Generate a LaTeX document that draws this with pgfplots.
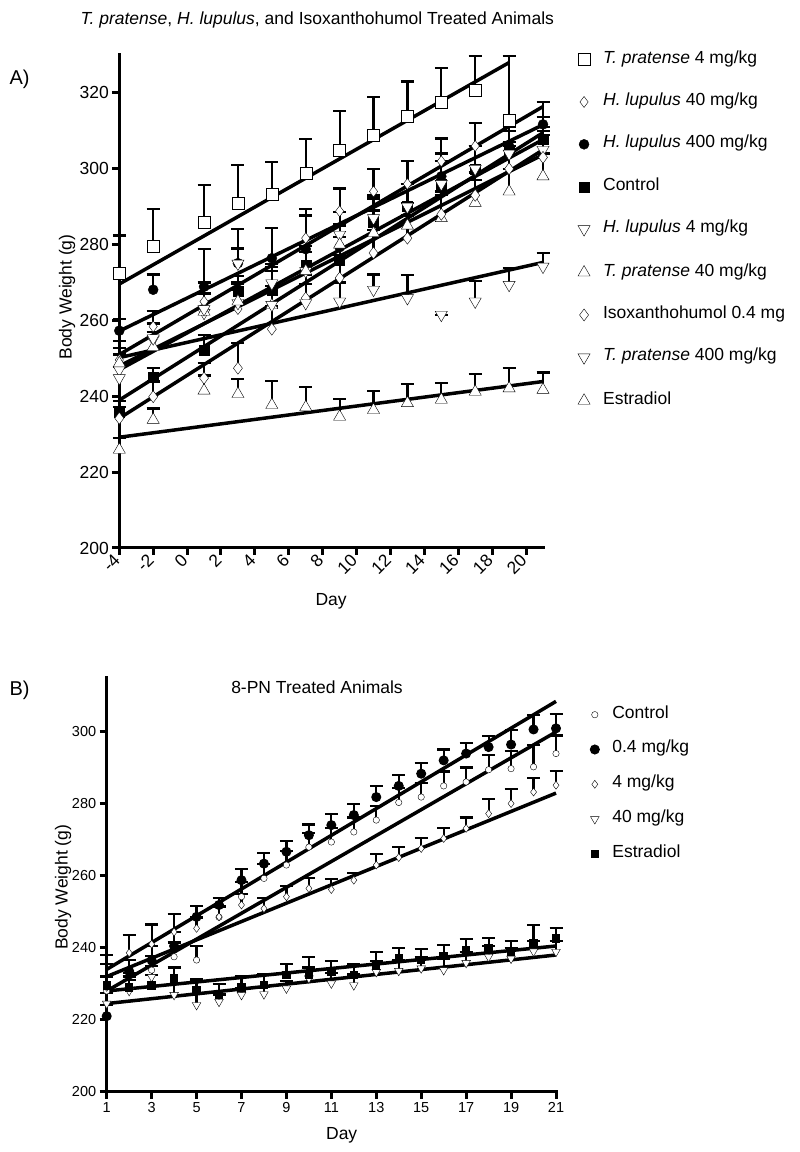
\documentclass[border=0pt]{standalone}
\usepackage{fontspec}
\setmainfont{Liberation Sans}
\usepackage{pgfplots}
\pgfplotsset{compat=1.18}
\newcommand{\fs}{\fontsize{17.5}{20}\selectfont}
\newcommand{\fss}{\fontsize{14.5}{17}\selectfont}
\pgfplotsset{
 prism/.style={
  scale only axis, clip=false,
  axis lines*=left,
  axis line style={line width=3pt, line cap=rect},
  every tick/.style={line width=3pt, black},
  major tick length=7pt, tick align=outside,
  tick label style={font=\fs},
  label style={font=\fs},
  /pgf/number format/assume math mode=true,
  legend style={draw=none, fill=none, inner sep=0pt, outer sep=0pt, font=\fs,
    nodes={inner sep=0pt, text height=10pt, text depth=3pt}},
  legend cell align=left,
 },
 eb/.style={/pgfplots/error bars/y dir=plus, /pgfplots/error bars/y explicit,
   /pgfplots/error bars/error bar style={line width=2.2pt, black, solid},
   /pgfplots/error bars/error mark options={rotate=90, mark size=6.5pt, line width=2.2pt, black, solid}},
 bmk/.style={only marks, mark options={solid, draw=black, line width=2.2pt}},
 tmk/.style={only marks, mark options={solid, draw=black!55, line width=1.3pt}},
 reg/.style={no marks, black, line width=3.5pt, forget plot},
}
\begin{document}
\begin{tikzpicture}[x=1pt,y=1pt]
\useasboundingbox (0,0) rectangle (800pt,1152pt);
\node[anchor=west, font=\fs] at (77pt,1132pt) {\textit{T. pratense}, \textit{H. lupulus}, and Isoxanthohumol Treated Animals};
\node[anchor=west, font=\fontsize{20}{22}\selectfont] at (6pt,1073pt) {A)};
\node[anchor=west, font=\fontsize{20}{22}\selectfont] at (6pt,462pt) {B)};
\node[font=\fs] at (317pt,465pt) {8-PN Treated Animals};

% ---------------- Panel A ----------------
\begin{axis}[prism, at={(119.3pt,604pt)}, anchor=south west,
  width=423.7pt, height=493pt,
  xmin=-4, xmax=21, ymin=200, ymax=330,
  xtick={-4,-2,...,20}, ytick={200,220,...,320},
  xticklabel style={rotate=45, anchor=east},
  xlabel={Day}, ylabel={Body Weight (g)},
  xlabel style={at={(axis description cs:0.5,-0.109)}, anchor=center},
  ylabel style={at={(axis description cs:-0.1234,0.509)}, anchor=center},
  legend style={at={(axis description cs:1.0826,1.004)}, anchor=north west,
    /tikz/row sep=29.4pt, /tikz/column sep=13pt},
]
% T. pratense 4
\addplot[bmk, mark=square*, mark size=6pt, mark options={fill=white}, eb] coordinates {
(-4,272.4) +- (0,10) (-2,279.7) +- (0,9.7) (1,285.9) +- (0,9.9) (3,291) +- (0,10)
(5,293.3) +- (0,8.4) (7,298.9) +- (0,9) (9,305) +- (0,10.2) (11,308.8) +- (0,10.1)
(13,313.8) +- (0,9.2) (15,317.6) +- (0,9) (17,320.8) +- (0,9) (19,312.7) +- (0,17)};
\addlegendentry{\textit{T. pratense} 4 mg/kg}
% H. lupulus 40
\addplot[tmk, mark=diamond*, mark size=5.5pt, mark options={fill=white}, eb] coordinates {
(-4,249.6) +- (0,5) (-2,258.4) +- (0,4) (1,265) +- (0,5) (3,263) +- (0,5) (5,269) +- (0,5)
(7,281.7) +- (0,6) (9,288.8) +- (0,6) (11,294) +- (0,6) (13,296) +- (0,6) (15,302) +- (0,6)
(17,306) +- (0,6) (19,300) +- (0,7) (21,303) +- (0,7)};
\addlegendentry{\textit{H. lupulus} 40 mg/kg}
% H. lupulus 400
\addplot[bmk, mark=*, mark size=5pt, mark options={fill=black}, eb] coordinates {
(-4,257.3) +- (0,3) (-2,268.1) +- (0,4) (1,268.9) +- (0,10) (3,275.1) +- (0,9) (5,276.4) +- (0,8)
(7,278.8) +- (0,10.5) (9,279.3) +- (0,6) (11,286.5) +- (0,6) (13,290) +- (0,6) (15,298) +- (0,6)
(17,300) +- (0,6) (19,306) +- (0,6) (21,311.7) +- (0,6)};
\addlegendentry{\textit{H. lupulus} 400 mg/kg}
% Control
\addplot[bmk, mark=square*, mark size=5pt, mark options={fill=black}, eb] coordinates {
(-4,235.7) +- (0,3) (-2,245) +- (0,2.5) (1,252.2) +- (0,4) (3,267.7) +- (0,4) (5,268) +- (0,5)
(7,274.7) +- (0,5) (9,276) +- (0,6) (11,286) +- (0,6) (13,290) +- (0,6) (15,296) +- (0,6)
(17,300) +- (0,6) (19,305) +- (0,6) (21,307.7) +- (0,6)};
\addlegendentry{Control}
% H. lupulus 4
\addplot[tmk, mark=triangle*, mark size=7pt, mark options={fill=white, rotate=180}, eb] coordinates {
(-4,247) +- (0,4) (-2,255) +- (0,4) (1,262) +- (0,5) (3,264.6) +- (0,5) (5,269.8) +- (0,5)
(7,273) +- (0,5) (9,282.6) +- (0,6) (11,287) +- (0,6) (13,290) +- (0,6) (15,296) +- (0,6)
(17,300) +- (0,6) (19,304) +- (0,6) (21,305) +- (0,6)};
\addlegendentry{\textit{H. lupulus} 4 mg/kg}
% T. pratense 40
\addplot[bmk, mark=triangle*, mark size=7pt, mark options={fill=white}, eb] coordinates {
(-4,248.7) +- (0,4) (-2,253) +- (0,4) (1,262.3) +- (0,5) (3,265) +- (0,5) (5,264) +- (0,5)
(7,273) +- (0,5) (9,280) +- (0,5) (11,283) +- (0,6) (13,285) +- (0,6) (15,287) +- (0,6)
(17,291) +- (0,6) (19,294) +- (0,6) (21,298) +- (0,6)};
\addlegendentry{\textit{T. pratense} 40 mg/kg}
% Isoxanthohumol
\addplot[bmk, mark=diamond*, mark size=6pt, mark options={fill=white}, eb] coordinates {
(-4,234.2) +- (0,3) (-2,239.9) +- (0,4) (1,244.8) +- (0,4) (3,247.4) +- (0,6.6) (5,257.7) +- (0,6)
(7,265.9) +- (0,6) (9,271.2) +- (0,6) (11,277.8) +- (0,6) (13,281.7) +- (0,6) (15,288) +- (0,6)
(17,293) +- (0,6) (19,300) +- (0,6) (21,303) +- (0,6)};
\addlegendentry{Isoxanthohumol 0.4 mg}
% T. pratense 400
\addplot[bmk, mark=triangle*, mark size=7pt, mark options={fill=white, rotate=180}, eb] coordinates {
(-4,244.8) +- (0,3) (-2,255.3) +- (0,4) (1,263) +- (0,4) (3,275) +- (0,4) (5,264.1) +- (0,5)
(7,264.6) +- (0,5) (9,265) +- (0,5) (11,268.1) +- (0,4) (13,265.9) +- (0,6) (15,261.5) +- (0,0)
(17,265) +- (0,5.3) (19,269.4) +- (0,4.4) (21,274.2) +- (0,3.6)};
\addlegendentry{\textit{T. pratense} 400 mg/kg}
% Estradiol
\addplot[tmk, mark=triangle*, mark size=7pt, mark options={fill=white}, eb] coordinates {
(-4,225.9) +- (0,3) (-2,233.8) +- (0,3) (1,241.5) +- (0,4) (3,240.6) +- (0,4) (5,237.7) +- (0,6.4)
(7,237.1) +- (0,5.3) (9,234.6) +- (0,4.6) (11,236.4) +- (0,5) (13,238.2) +- (0,5.1) (15,239.1) +- (0,4.5)
(17,241.2) +- (0,4.7) (19,242.1) +- (0,5.3) (21,241.7) +- (0,4.6)};
\addlegendentry{Estradiol}
% regression lines
\addplot[reg] coordinates {(-4,269.6) (19,328)};
\addplot[reg] coordinates {(-4,251) (21,316.4)};
\addplot[reg] coordinates {(-4,257.2) (21,311.6)};
\addplot[reg] coordinates {(-4,239) (21,309.5)};
\addplot[reg] coordinates {(-4,247) (21,307.7)};
\addplot[reg] coordinates {(-4,248) (21,303.7)};
\addplot[reg] coordinates {(-4,234.2) (21,305)};
\addplot[reg] coordinates {(-4,250.2) (21,275.3)};
\addplot[reg] coordinates {(-4,229.2) (21,243.9)};
\end{axis}

% ---------------- Panel B ----------------
\begin{axis}[prism, at={(106.7pt,60.3pt)}, anchor=south west,
  width=449.3pt, height=413.7pt,
  xmin=1, xmax=21, ymin=200, ymax=315,
  xtick={1,3,...,21}, ytick={200,220,...,300},
  tick label style={font=\fss},
  xlabel={Day}, ylabel={Body Weight (g)},
  xlabel style={at={(axis description cs:0.523,-0.105)}, anchor=center},
  ylabel style={at={(axis description cs:-0.097,0.494)}, anchor=center},
  legend style={at={(axis description cs:1.0764,0.927)}, anchor=north west,
    /tikz/row sep=21.8pt, /tikz/column sep=13pt},
]
\addplot[bmk, mark=*, mark size=3.2pt, mark options={fill=white}, eb] coordinates {
(1,228) +- (0,4) (2,229) +- (0,4) (3,233.8) +- (0,4) (4,237.5) +- (0,4) (5,236.6) +- (0,4)
(6,248.5) +- (0,3) (7,254.2) +- (0,4) (8,259.3) +- (0,4) (9,263) +- (0,4) (10,268) +- (0,4)
(11,269.4) +- (0,4) (12,272.2) +- (0,4) (13,275.5) +- (0,4) (14,280.4) +- (0,4) (15,281.9) +- (0,4)
(16,285) +- (0,4) (17,286.1) +- (0,4) (18,289.5) +- (0,4) (19,289.8) +- (0,5) (20,290.3) +- (0,6) (21,294) +- (0,5)};
\addlegendentry{Control}
\addplot[bmk, mark=*, mark size=4.5pt, mark options={fill=black, line width=1pt}, eb] coordinates {
(1,221) +- (0,3) (2,233.5) +- (0,3) (3,236.5) +- (0,4) (4,240.5) +- (0,4) (5,248.6) +- (0,3)
(6,251.9) +- (0,2) (7,258.8) +- (0,3) (8,263.4) +- (0,3) (9,266.7) +- (0,3) (10,271.3) +- (0,3)
(11,274.1) +- (0,3) (12,276.9) +- (0,3) (13,281.9) +- (0,3) (14,285) +- (0,3) (15,288.4) +- (0,3)
(16,292.1) +- (0,3) (17,294) +- (0,3) (18,295.8) +- (0,3) (19,296.5) +- (0,4) (20,300.7) +- (0,4) (21,301) +- (0,4)};
\addlegendentry{0.4 mg/kg}
\addplot[tmk, mark=diamond*, mark size=4pt, mark options={fill=white}, eb] coordinates {
(1,229) +- (0,9) (2,238.6) +- (0,5) (3,241) +- (0,5.5) (4,244.4) +- (0,5) (5,245.4) +- (0,3)
(6,248.6) +- (0,3) (7,251.9) +- (0,3) (8,250.9) +- (0,3) (9,254.2) +- (0,3) (10,256.5) +- (0,3)
(11,256.2) +- (0,3) (12,258.8) +- (0,2) (13,263) +- (0,3) (14,265.1) +- (0,3) (15,267.6) +- (0,3)
(16,270.4) +- (0,3) (17,273.2) +- (0,3) (18,277.3) +- (0,4) (19,280.1) +- (0,4) (20,283.3) +- (0,4) (21,285.2) +- (0,4)};
\addlegendentry{4 mg/kg}
\addplot[bmk, mark=triangle*, mark size=5pt, mark options={fill=white, rotate=180}, eb] coordinates {
(1,224.5) +- (0,3) (2,228) +- (0,3) (3,231.9) +- (0,3) (4,226.9) +- (0,3) (5,224.1) +- (0,3)
(6,225) +- (0,2) (7,226.9) +- (0,2) (8,227.1) +- (0,2) (9,228.7) +- (0,2) (10,231.5) +- (0,3)
(11,230.1) +- (0,3) (12,229.6) +- (0,3) (13,233.3) +- (0,3) (14,233.6) +- (0,3) (15,234.3) +- (0,3)
(16,233.8) +- (0,3) (17,235.8) +- (0,3) (18,237.5) +- (0,3) (19,237) +- (0,3) (20,239) +- (0,3) (21,238.9) +- (0,3)};
\addlegendentry{40 mg/kg}
\addplot[bmk, mark=square*, mark size=3.7pt, mark options={fill=black, line width=1pt}, eb] coordinates {
(1,229.5) +- (0,6) (2,229) +- (0,3) (3,229.5) +- (0,3) (4,231.5) +- (0,3) (5,228.2) +- (0,3)
(6,226.9) +- (0,3) (7,229) +- (0,3) (8,229.6) +- (0,3) (9,232.4) +- (0,3) (10,232.4) +- (0,5)
(11,233.3) +- (0,3) (12,232.4) +- (0,3) (13,234.9) +- (0,4) (14,237) +- (0,3) (15,236.6) +- (0,3)
(16,237.7) +- (0,3) (17,239.4) +- (0,3) (18,239.8) +- (0,3) (19,238.9) +- (0,3) (20,241.4) +- (0,5) (21,242.6) +- (0,3)};
\addlegendentry{Estradiol}
\addplot[reg] coordinates {(1,228) (21,300)};
\addplot[reg] coordinates {(1,234) (21,308.5)};
\addplot[reg] coordinates {(1,232) (21,283)};
\addplot[reg] coordinates {(1,224.5) (21,238)};
\addplot[reg] coordinates {(1,228) (21,240.5)};
\end{axis}
\end{tikzpicture}
\end{document}
